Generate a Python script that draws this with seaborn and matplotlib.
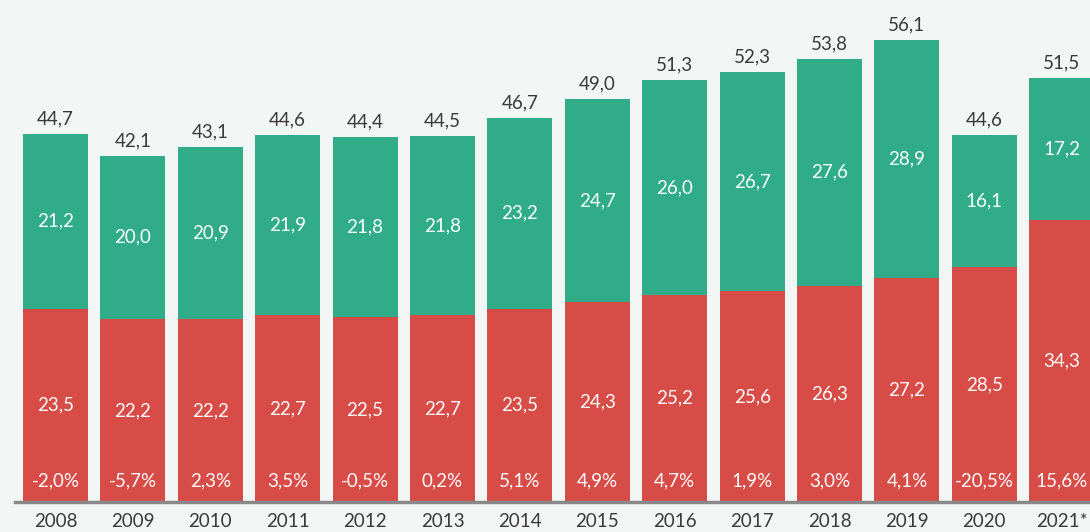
import matplotlib
matplotlib.use("Agg")
import matplotlib.pyplot as plt
import seaborn as sns
import pandas as pd

years = ["2008", "2009", "2010", "2011", "2012", "2013", "2014",
         "2015", "2016", "2017", "2018", "2019", "2020", "2021*"]
red_vals = [23.5, 22.2, 22.2, 22.7, 22.5, 22.7, 23.5,
            24.3, 25.2, 25.6, 26.3, 27.2, 28.5, 34.3]
green_vals = [21.2, 20.0, 20.9, 21.9, 21.8, 21.8, 23.2,
              24.7, 26.0, 26.7, 27.6, 28.9, 16.1, 17.2]
totals = [44.7, 42.1, 43.1, 44.6, 44.4, 44.5, 46.7,
          49.0, 51.3, 52.3, 53.8, 56.1, 44.6, 51.5]
growth = ["-2,0%", "-5,7%", "2,3%", "3,5%", "-0,5%", "0,2%", "5,1%",
          "4,9%", "4,7%", "1,9%", "3,0%", "4,1%", "-20,5%", "15,6%"]

df = pd.DataFrame({"year": years, "red": red_vals, "green": green_vals, "total": totals})

GREEN = "#30ad88"
RED = "#d84c48"
BG = "#f2f7f5"

sns.set_style("white")
plt.rcParams["font.family"] = ["Lato", "DejaVu Sans"]

fig = plt.figure(figsize=(10.9, 5.32), dpi=100, facecolor=BG)
ax = fig.add_axes([15 / 1090, 30 / 532, 1075 / 1090, 502 / 532])
ax.set_facecolor(BG)

# stacked look: full-height green bar, red bar drawn over its lower part
sns.barplot(data=df, x="year", y="total", color=GREEN, width=0.84,
            saturation=1, linewidth=0, ax=ax)
sns.barplot(data=df, x="year", y="red", color=RED, width=0.84,
            saturation=1, linewidth=0, ax=ax)

fs = 13.5
fmt = lambda v: f"{v:.1f}".replace(".", ",")
for i in range(len(years)):
    r, t = red_vals[i], totals[i]
    ax.text(i, r / 2, fmt(r), ha="center", va="center", color="white", fontsize=fs)
    ax.text(i, r + green_vals[i] / 2, fmt(green_vals[i]), ha="center", va="center",
            color="white", fontsize=fs)
    ax.text(i, t + 0.8, fmt(t), ha="center", va="bottom", color="#3a3a3a", fontsize=fs)
    ax.text(i, 2.6, growth[i], ha="center", va="center", color="white", fontsize=fs)

ax.set_xlim(-0.523, 13.365)
ax.set_ylim(0, 61)
ax.set_xlabel("")
ax.set_ylabel("")
ax.set_yticks([])
ax.tick_params(axis="x", length=0, labelsize=fs, labelcolor="#3a3a3a", pad=8)
for s in ["top", "right", "left"]:
    ax.spines[s].set_visible(False)
ax.spines["bottom"].set_color("#8a8a8a")
ax.spines["bottom"].set_linewidth(2.5)

fig.savefig("out.png", dpi=100, facecolor=BG)
